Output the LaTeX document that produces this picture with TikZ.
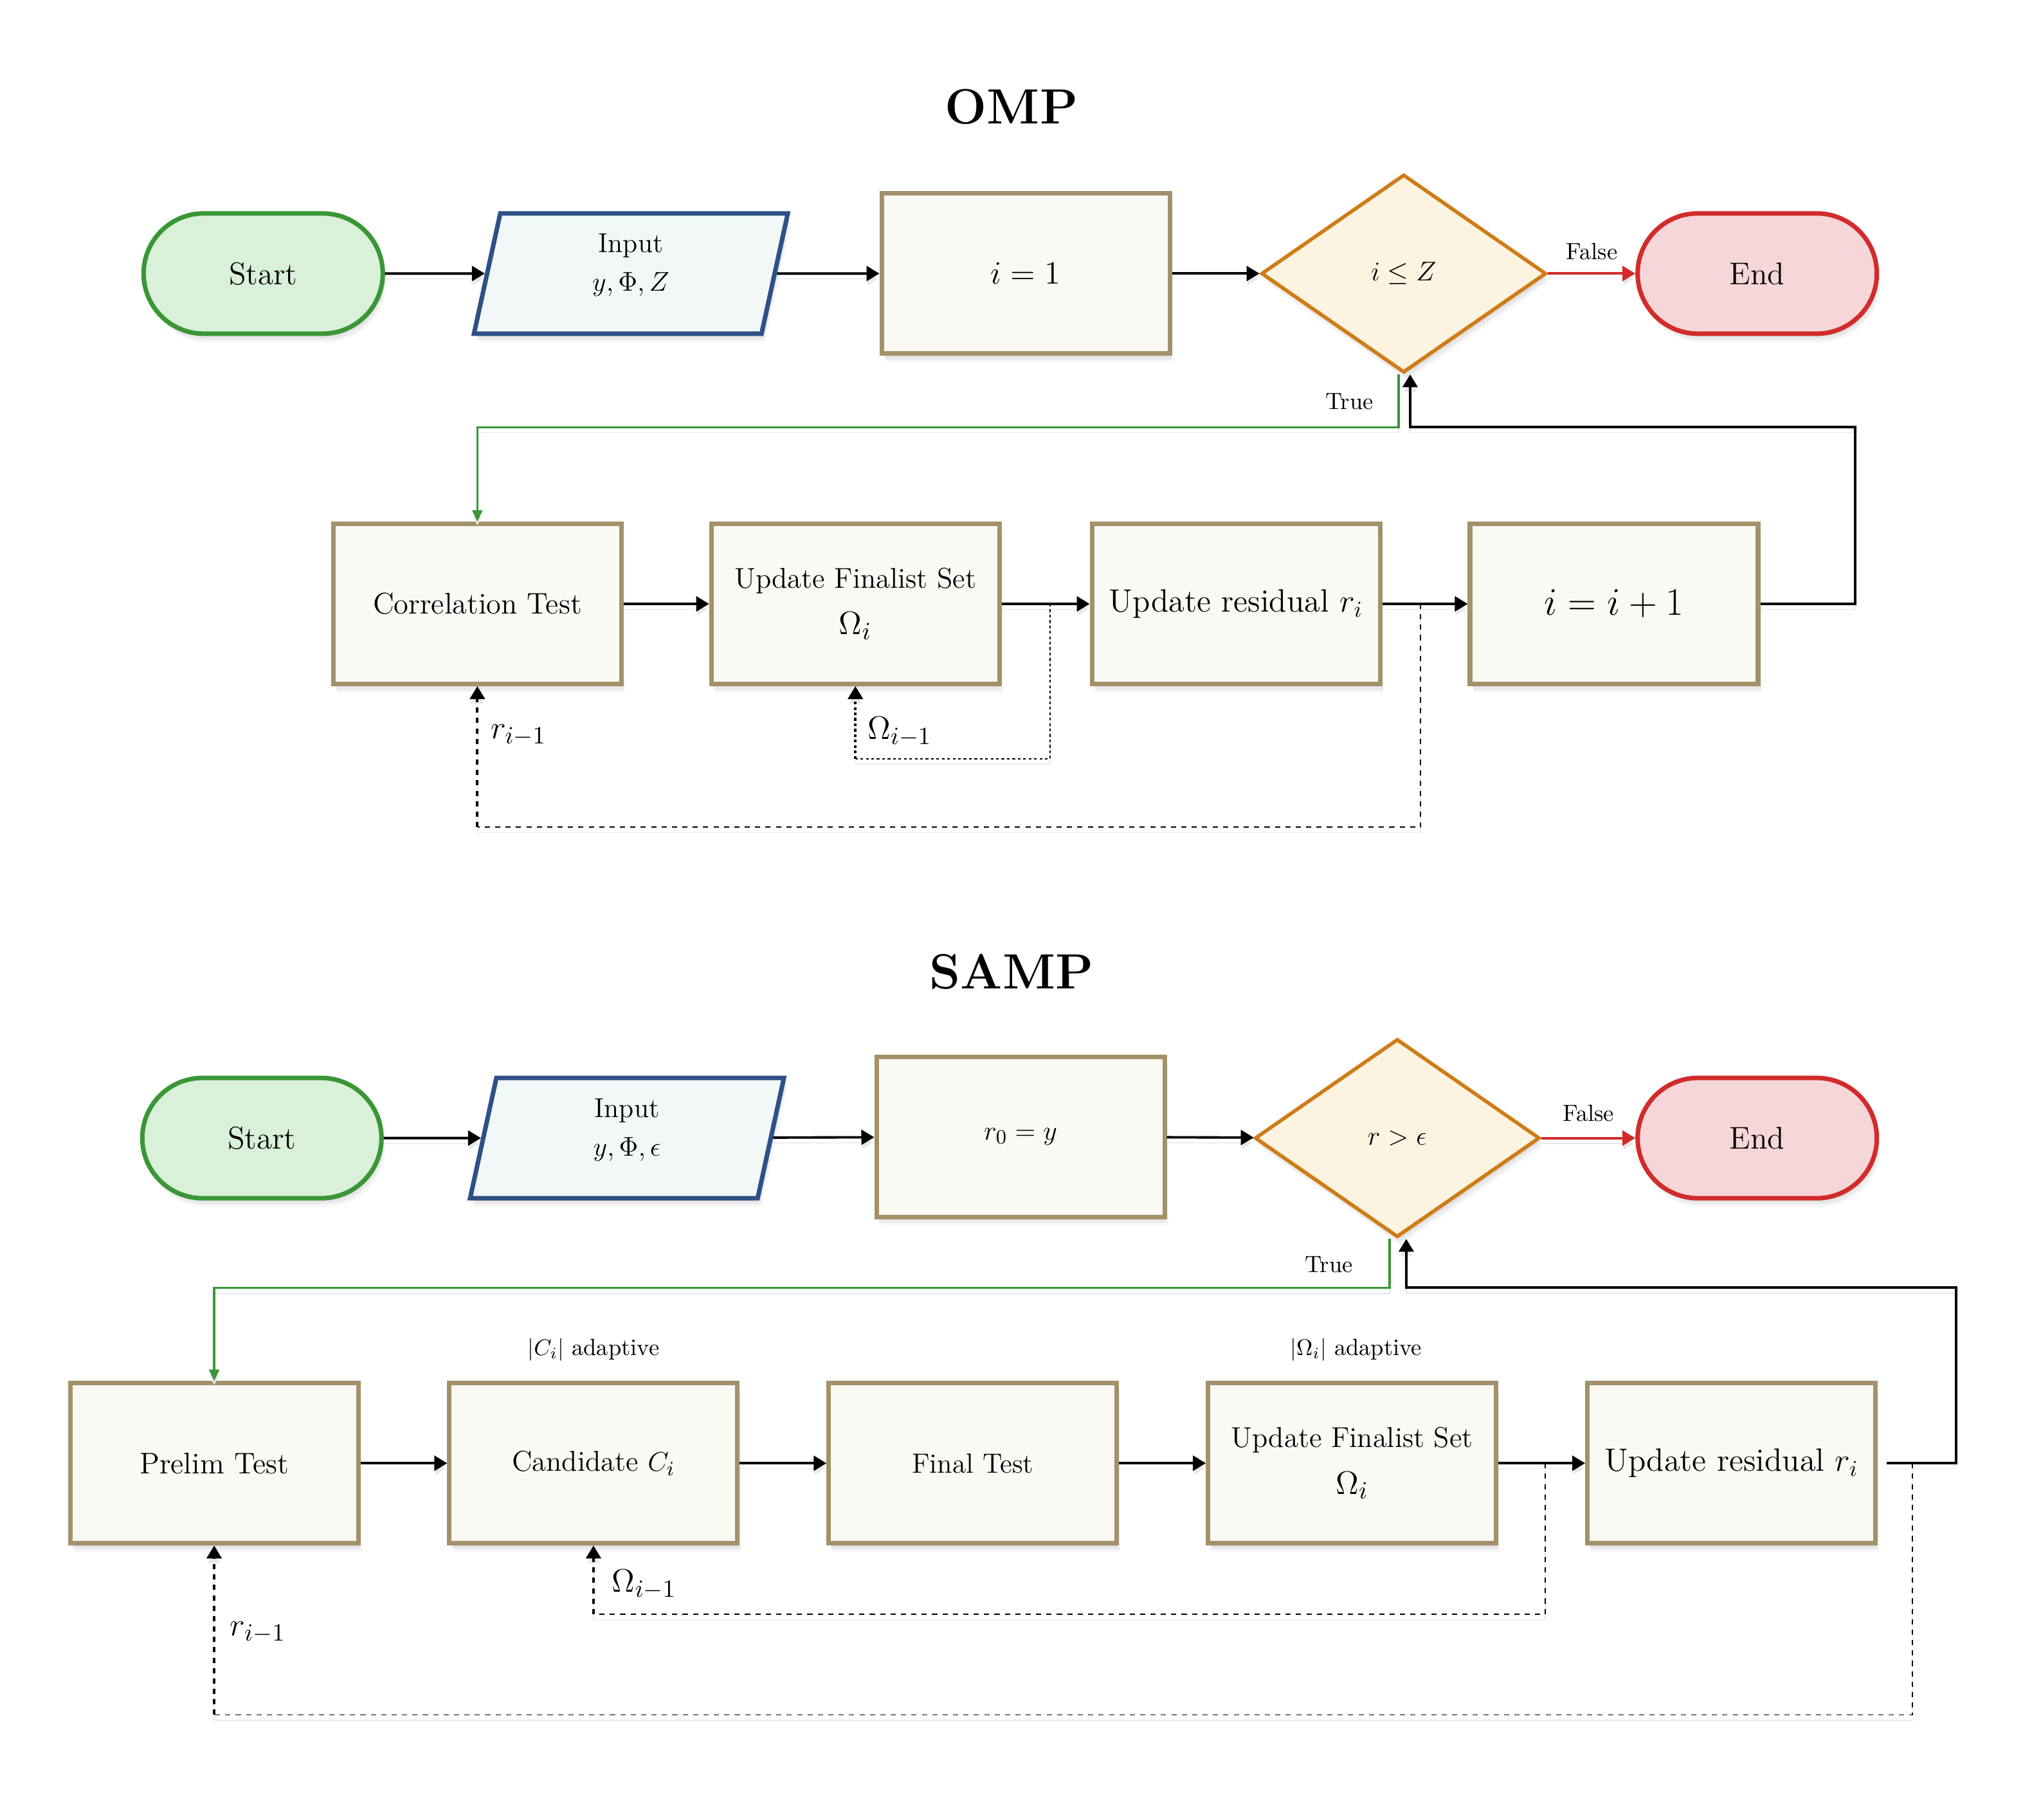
\documentclass[tikz,border=0pt]{standalone}
\usetikzlibrary{shapes.geometric,shapes.misc,arrows.meta,shadows,calc}
\definecolor{sgreenF}{HTML}{D9F0D9}
\definecolor{sgreenD}{HTML}{3A9636}
\definecolor{inF}{HTML}{F2F8F8}
\definecolor{inD}{HTML}{2E5085}
\definecolor{boxF}{HTML}{FAF9F4}
\definecolor{boxD}{HTML}{A39169}
\definecolor{decF}{HTML}{FCF3E1}
\definecolor{decD}{HTML}{CF7C17}
\definecolor{endF}{HTML}{F6D6D8}
\definecolor{endD}{HTML}{D22B2B}
\tikzset{
  every node/.style={inner sep=0pt},
  shd/.style={drop shadow={shadow xshift=0.6pt, shadow yshift=-1.4pt, opacity=0.13},
              drop shadow={shadow xshift=1.1pt, shadow yshift=-2.6pt, opacity=0.10},
              drop shadow={shadow xshift=1.6pt, shadow yshift=-3.8pt, opacity=0.07}},
  term/.style={rounded rectangle, shd, minimum width=37.2mm, minimum height=18.7mm, line width=2pt, font=\fontsize{13.9}{16}\selectfont},
  startbox/.style={term, draw=sgreenD, fill=sgreenF},
  endbox/.style={term, draw=endD, fill=endF},
  iobox/.style={trapezium, trapezium left angle=71.6, trapezium right angle=108.4, trapezium stretches body, minimum width=48.8mm, minimum height=18.7mm, draw=inD, fill=inF, line width=2pt, shd, align=center, text depth=3.4mm, font=\fontsize{12.1}{17}\selectfont},
  procbox/.style={rectangle, minimum width=44.8mm, minimum height=24.9mm, draw=boxD, fill=boxF, line width=2pt, shd, align=center},
  decbox/.style={diamond, minimum width=44.3mm, minimum height=30.8mm, draw=decD, fill=decF, line width=1.6pt, shd},
  titletext/.style={font=\fontsize{21.9}{26}\selectfont\bfseries},
  smalllab/.style={font=\fontsize{10.4}{12}\selectfont},
  looplab/.style={anchor=west, font=\fontsize{15}{18}\selectfont},
  lsh/.style={preaction={draw=black!9, transform canvas={yshift=-2.4pt}}},
  arr/.style={lsh, line width=1.1pt, -{Triangle[length=5.7pt,width=6.6pt]}},
  truearr/.style={lsh, line width=0.9pt, draw=sgreenD, -{Triangle[length=5pt,width=4.5pt]}, color=sgreenD},
  falsearr/.style={lsh, line width=1.1pt, draw=endD, -{Triangle[length=5.7pt,width=6.6pt]}, color=endD},
  thinloop/.style={lsh, line width=0.55pt, dash pattern=on 2.3pt off 2.3pt},
  thinloopdense/.style={lsh, line width=0.55pt, dash pattern=on 1.2pt off 1.2pt},
  thickloop/.style={lsh, line width=1.1pt, dash pattern=on 2.3pt off 2.3pt, -{Triangle[length=5.7pt,width=6.6pt]}},
  thickloopdense/.style={lsh, line width=1.1pt, dash pattern=on 1.2pt off 1.2pt, -{Triangle[length=5.7pt,width=6.6pt]}},
}
\begin{document}
\begin{tikzpicture}[x=0.20064mm, y=-0.20064mm]
\useasboundingbox (0,0) rectangle (1568,1410.5);

% ================= OMP =================
\node[titletext] (t1) at (784,83) {OMP};
\node[startbox] (s1) at (204,212) {Start};
\node[iobox] (in1) at (489,212) {Input\\$y,\Phi,Z$};
\node[procbox, font=\fontsize{13.7}{16}\selectfont] (init1) at (795,212) {$i=1$};
\node[decbox, font=\fontsize{12.2}{15}\selectfont] (dec1) at (1088,212) {$i\leq Z$};
\node[endbox] (end1) at (1362,212) {End};

\node[procbox, font=\fontsize{13.2}{15}\selectfont] (corr) at (370,468) {Correlation Test};
\node[procbox, font=\fontsize{12.7}{20.5}\selectfont] (ufs1) at (663,468) {Update Finalist Set\\{\fontsize{15}{18}\selectfont$\Omega_i$}};
\node[procbox, font=\fontsize{14.3}{17}\selectfont] (ur1) at (958,468) {Update residual $r_i$};
\node[procbox, font=\fontsize{16.3}{19}\selectfont] (inc) at (1251,468) {$i=i+1$};

\draw[arr] (s1) -- (in1);
\draw[arr] (in1) -- (init1);
\draw[arr] (init1) -- (dec1);
\draw[falsearr] (dec1) -- node[smalllab, above=2mm, black] (f1) {False} (end1);

\coordinate (gc1) at (370,331);
\draw[truearr] ([xshift=-0.8mm]dec1.south) |- (gc1) -- (corr.north);
\node[smalllab] (tr1) at (1046,311) {True};

\coordinate (bc1) at (1438,331);
\draw[arr] (inc.east) -| (bc1) -| ([xshift=1mm]dec1.south);

\draw[arr] (corr) -- (ufs1);
\draw[arr] (ufs1) -- (ur1);
\draw[arr] (ur1) -- (inc);

\coordinate (o1) at ($(ufs1.east)!0.55!(ur1.west)$);
\coordinate (oc1) at (663,588);
\draw[thinloopdense] (o1) |- (oc1);
\draw[thickloopdense] (oc1) -- (ufs1.south);
\node[looplab] (ol1) at (672,567) {$\Omega_{i-1}$};

\coordinate (r1) at ($(ur1.east)!0.45!(inc.west)$);
\coordinate (rc1) at (370,641);
\draw[thinloop] (r1) |- (rc1);
\draw[thickloop] (rc1) -- (corr.south);
\node[looplab] (rl1) at (380,570) {$r_{i-1}$};

% ================= SAMP =================
\node[titletext] (t2) at (784,753) {SAMP};
\node[startbox] (s2) at (203,882) {Start};
\node[iobox] (in2) at (486,882) {Input\\$y,\Phi,\epsilon$};
\node[procbox, font=\fontsize{12.6}{15}\selectfont] (init2) at (791,881) {$r_0=y$};
\node[decbox, font=\fontsize{12.6}{15}\selectfont] (dec2) at (1083,882) {$r>\epsilon$};
\node[endbox] (end2) at (1362,882) {End};

\node[procbox, font=\fontsize{13.2}{15}\selectfont] (pre) at (166,1134) {Prelim Test};
\node[procbox, font=\fontsize{12.7}{15}\selectfont] (cand) at (460,1134) {Candidate $C_i$};
\node[procbox, font=\fontsize{12.3}{14}\selectfont] (fin) at (754,1134) {Final Test};
\node[procbox, font=\fontsize{12.7}{20.5}\selectfont] (ufs2) at (1048,1134) {Update Finalist Set\\{\fontsize{15}{18}\selectfont$\Omega_i$}};
\node[procbox, font=\fontsize{14.3}{17}\selectfont] (ur2) at (1342,1134) {Update residual $r_i$};

\node[smalllab] (ca) at (460,1046) {$|C_i|$ adaptive};
\node[smalllab] (oa) at (1051,1046) {$|\Omega_i|$ adaptive};

\draw[arr] (s2) -- (in2);
\draw[arr] (in2) -- (init2);
\draw[arr] (init2) -- (dec2);
\draw[falsearr] (dec2) -- node[smalllab, above=2.4mm, black] (f2) {False} (end2);

\coordinate (gc2) at (166,998);
\draw[truearr] ([xshift=-1.2mm]dec2.south) |- (gc2) -- (pre.north);
\node[smalllab] (tr2) at (1030,980) {True};

\coordinate (bc2) at (1516,998);
\draw[arr] ([xshift=1.4mm]ur2.east) -| (bc2) -| ([xshift=1.4mm]dec2.south);

\draw[arr] (pre) -- (cand);
\draw[arr] (cand) -- (fin);
\draw[arr] (fin) -- (ufs2);
\draw[arr] (ufs2) -- (ur2);

\coordinate (o2) at ($(ufs2.east)!0.54!(ur2.west)$);
\coordinate (oc2) at (460,1251);
\draw[thinloop] (o2) |- (oc2);
\draw[thickloop] (oc2) -- (cand.south);
\node[looplab] (ol2) at (474,1228) {$\Omega_{i-1}$};

\coordinate (r2) at ($(ur2.east)+(27,0)$);
\coordinate (rc2) at (166,1329);
\draw[thinloop] (r2) |- (rc2);
\draw[thickloop] (rc2) -- (pre.south);
\node[looplab] (rl2) at (178,1265) {$r_{i-1}$};
\end{tikzpicture}
\end{document}
